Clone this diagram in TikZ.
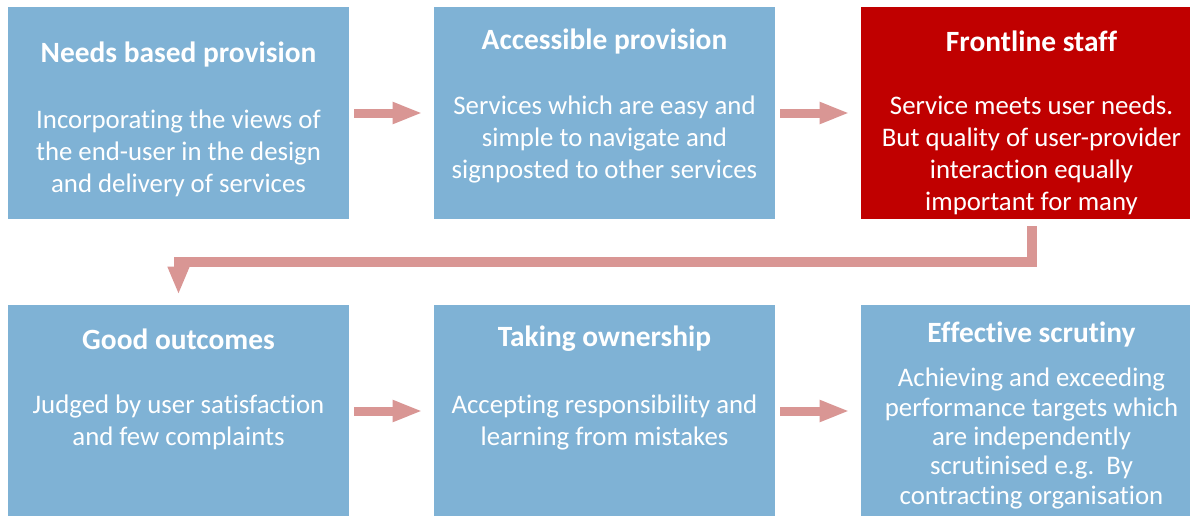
\documentclass[tikz,border=0pt]{standalone}
\usepackage{fontspec}
\setmainfont{Carlito}[Ligatures=NoCommon]
\usetikzlibrary{arrows.meta}
\definecolor{stepblue}{RGB}{127,178,213}
\definecolor{stepred}{RGB}{192,0,0}
\definecolor{arrowpink}{RGB}{217,150,148}
\begin{document}
\begin{tikzpicture}[
  x=0.5pt, y=-0.5pt,
  panel/.style={
    fill=stepblue,
    minimum width=170.5pt,
    minimum height=106pt,
    inner sep=0pt
  },
  hot/.style={panel, fill=stepred},
  heading/.style={text=white, font=\fontsize{14.7}{16}\selectfont\bfseries, inner sep=0pt},
  body/.style={text=white, align=center, inner sep=0pt, font=\fontsize{13.4}{16}\selectfont},
  tight/.style={body, font=\fontsize{13.4}{14.7}\selectfont},
  link/.style={arrowpink, line width=4.5pt,
    -{Triangle[length=15pt,width=10pt]},
    shorten <=2.5pt, shorten >=5.5pt},
  turn/.style={arrowpink, line width=5pt, line join=miter,
    -{Triangle[length=14pt,width=10pt]},
    shorten <=3.5pt, shorten >=5pt}
]
\useasboundingbox[fill=white] (0,0) rectangle (1190,515);

% top row
\node[panel] (needs) at (178.5,113) {};
\node[panel] (access) at (604.5,113) {};
\node[hot] (front) at (1031.5,113) {};
\node[heading] (needs-title) at (178.5,54) {Needs based provision};
\node[body] (needs-text) at (178.5,153.5) {Incorporating the views of\\the end-user in the design\\and delivery of services};
\node[heading] (access-title) at (604.5,41) {Accessible provision};
\node[body] (access-text) at (604.5,139.5) {Services which are easy and\\simple to navigate and\\signposted to other services};
\node[heading] (front-title) at (1031.5,41) {Frontline staff};
\node[body] (front-text) at (1031.5,155.5) {Service meets user needs.\\But quality of user-provider\\interaction equally\\important for many};

% bottom row
\node[panel] (good) at (178.5,411) {};
\node[panel] (owner) at (604.5,411) {};
\node[panel] (scrutiny) at (1031.5,411) {};
\node[heading] (good-title) at (178.5,339) {Good outcomes};
\node[body] (good-text) at (178.5,422.5) {Judged by user satisfaction\\and few complaints};
\node[heading] (owner-title) at (604.5,339) {Taking ownership};
\node[body] (owner-text) at (604.5,422.5) {Accepting responsibility and\\learning from mistakes};
\node[heading] (scrutiny-title) at (1031.5,334) {Effective scrutiny};
\node[tight] (scrutiny-text) at (1031.5,438.5) {Achieving and exceeding\\performance targets which\\are independently\\scrutinised e.g.\ \ By\\contracting organisation};

% arrows
\draw[link] (needs) -- (access);
\draw[link] (access) -- (front);
\draw[turn] (front.south) -- ++(0,43) -| (good.north);
\draw[link] (good) -- (owner);
\draw[link] (owner) -- (scrutiny);
\end{tikzpicture}
\end{document}
